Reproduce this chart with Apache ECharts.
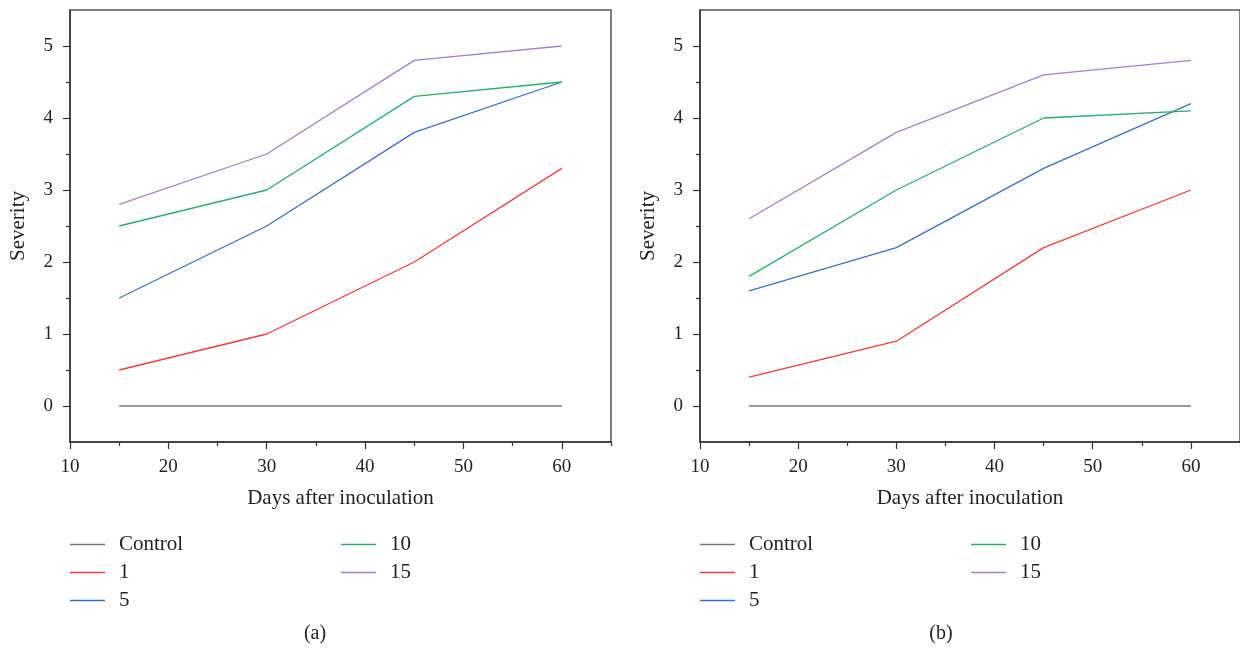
<!DOCTYPE html>
<html>
<head>
<meta charset="utf-8">
<script src="https://cdn.jsdelivr.net/npm/echarts@6/dist/echarts.min.js"></script>
<style>html,body{margin:0;padding:0;background:#fff}#c{width:1240px;height:650px}</style>
</head>
<body>
<div id="c"></div>
<script>
var days = [15, 30, 45, 60];
var seriesNames = ['Control', '1', '5', '10', '15'];
// panel (a)
var aControl = [0, 0, 0, 0];
var a1 = [0.5, 1.0, 2.0, 3.3];
var a5 = [1.5, 2.5, 3.8, 4.5];
var a10 = [2.5, 3.0, 4.3, 4.5];
var a15 = [2.8, 3.5, 4.8, 5.0];
// panel (b)
var bControl = [0, 0, 0, 0];
var b1 = [0.4, 0.9, 2.2, 3.0];
var b5 = [1.6, 2.2, 3.3, 4.2];
var b10 = [1.8, 3.0, 4.0, 4.1];
var b15 = [2.6, 3.8, 4.6, 4.8];
var xMajorTicks = [10, 20, 30, 40, 50, 60];
var xMinorTicks = [15, 25, 35, 45, 55, 65];
var yMajorTicks = [0, 1, 2, 3, 4, 5];
var yMinorTicks = [0.5, 1.5, 2.5, 3.5, 4.5];
var colors = ['#777777', '#f23c3c', '#3a70c2', '#2aae68', '#a67fc9'];

var font = '"Liberation Serif", "DejaVu Serif", serif';
var chart = echarts.init(document.getElementById('c'));

function pairs(vals) { return days.map(function (d, i) { return [d, vals[i]]; }); }

var grids = [
  {left: 70, top: 10, width: 541, height: 432},
  {left: 700, top: 10, width: 542, height: 432}
];
grids.forEach(function (g) { g.show = true; g.borderColor = '#555'; g.borderWidth = 1.5; g.backgroundColor = 'transparent'; });

var xAxes = [], yAxes = [];
[0, 1].forEach(function (gi) {
  xAxes.push({
    type: 'value', gridIndex: gi, min: 10, max: 65,
    name: 'Days after inoculation', nameLocation: 'middle', nameGap: 46,
    nameTextStyle: {fontFamily: font, fontSize: 21, color: '#222'},
    axisLine: {show: true, onZero: false, lineStyle: {color: '#333', width: 1.5}},
    axisTick: {show: true, length: 7, customValues: xMajorTicks, lineStyle: {color: '#333', width: 1.2}},
    axisLabel: {show: true, customValues: xMajorTicks, margin: 16, fontFamily: font, fontSize: 19, color: '#222'},
    splitLine: {show: false}
  });
  xAxes.push({
    type: 'value', gridIndex: gi, min: 10, max: 65, position: 'bottom',
    axisLine: {show: false, onZero: false},
    axisTick: {show: true, length: 4, customValues: xMinorTicks, lineStyle: {color: '#333', width: 1.2}},
    axisLabel: {show: false},
    splitLine: {show: false}
  });
  yAxes.push({
    type: 'value', gridIndex: gi, min: -0.5, max: 5.5,
    name: 'Severity', nameLocation: 'middle', nameGap: 41,
    nameTextStyle: {fontFamily: font, fontSize: 21, color: '#222'},
    axisLine: {show: true, onZero: false, lineStyle: {color: '#333', width: 1.5}},
    axisTick: {show: true, length: 7, customValues: yMajorTicks, lineStyle: {color: '#333', width: 1.2}},
    axisLabel: {show: true, customValues: yMajorTicks, margin: 17, fontFamily: font, fontSize: 19, color: '#222'},
    splitLine: {show: false}
  });
  yAxes.push({
    type: 'value', gridIndex: gi, min: -0.5, max: 5.5, position: 'left',
    axisLine: {show: false, onZero: false},
    axisTick: {show: true, length: 4, customValues: yMinorTicks, lineStyle: {color: '#333', width: 1.2}},
    axisLabel: {show: false},
    splitLine: {show: false}
  });
});

var panelData = [[aControl, a1, a5, a10, a15], [bControl, b1, b5, b10, b15]];
var series = [];
panelData.forEach(function (set, gi) {
  set.forEach(function (vals, si) {
    series.push({
      type: 'line', name: seriesNames[si], xAxisIndex: gi * 2, yAxisIndex: gi * 2,
      data: pairs(vals), symbol: 'none', silent: true, animation: false,
      lineStyle: {color: colors[si], width: si === 0 ? 1.6 : 1.3},
      itemStyle: {color: colors[si]}
    });
  });
});

function legend(left, names) {
  return {
    left: left, top: 534, orient: 'vertical', data: names, padding: 0,
    icon: 'rect', itemWidth: 35, itemHeight: 1.6, itemGap: 7,
    selectedMode: false,
    textStyle: {fontFamily: font, fontSize: 21, color: '#222', lineHeight: 20, padding: [0, 0, 0, 9]}
  };
}

chart.setOption({
  animation: false,
  color: colors,
  grid: grids,
  xAxis: xAxes,
  yAxis: yAxes,
  legend: [
    legend(70, ['Control', '1', '5']), legend(341, ['10', '15']),
    legend(700, ['Control', '1', '5']), legend(971, ['10', '15'])
  ],
  graphic: [
    {type: 'text', x: 315, y: 634, style: {text: '(a)', font: '20px ' + font, fill: '#222', textAlign: 'center', textVerticalAlign: 'middle'}},
    {type: 'text', x: 941, y: 634, style: {text: '(b)', font: '20px ' + font, fill: '#222', textAlign: 'center', textVerticalAlign: 'middle'}}
  ],
  series: series
});
</script>
</body>
</html>
